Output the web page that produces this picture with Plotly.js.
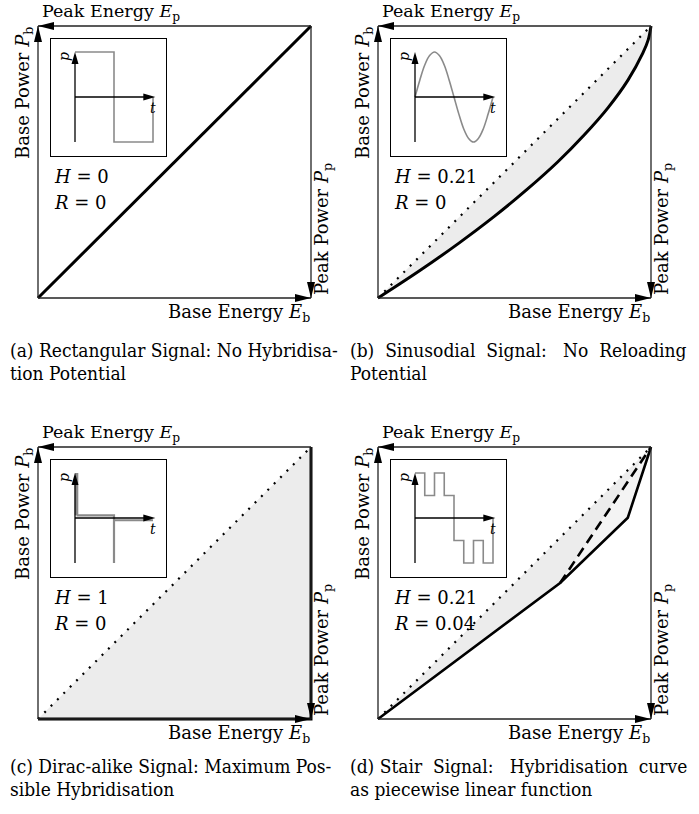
<!DOCTYPE html>
<html>
<head>
<meta charset="utf-8">
<script src="https://cdn.plot.ly/plotly-3.0.1.min.js"></script>
<style>html,body{margin:0;padding:0;background:#fff;}#chart{width:699px;height:814px;}</style>
</head>
<body>
<div id="chart"></div>
<script>
// ---------- data ----------
const diagX = [0, 1];
const diagY = [0, 1];
const rectCurveX = [0, 1];
const rectCurveY = [0, 1];
const sineCurveX = [0, 0.152, 0.294, 0.426, 0.547, 0.658, 0.756, 0.843, 0.915, 0.970, 0.990, 1.0];
const sineCurveY = [0, 0.10, 0.20, 0.30, 0.40, 0.50, 0.60, 0.70, 0.80, 0.90, 0.95, 1.0];
const diracCurveX = [0, 1, 1];
const diracCurveY = [0, 0, 1];
const stairCurveX = [0, 0.667, 0.915, 1];
const stairCurveY = [0, 0.50, 0.74, 1];
const stairDashX = [0, 0.667, 1];
const stairDashY = [0, 0.50, 1];

const rectT = [0, 0.5, 0.5, 1, 1];
const rectP = [1, 1, -1, -1, 0];
const sineT = [0, 0.0625, 0.125, 0.1875, 0.25, 0.3125, 0.375, 0.4375, 0.5, 0.5625, 0.625, 0.6875, 0.75, 0.8125, 0.875, 0.9375, 1];
const sineP = [0, 0.38, 0.71, 0.92, 1, 0.92, 0.71, 0.38, 0, -0.38, -0.71, -0.92, -1, -0.92, -0.71, -0.38, 0];
const diracSpikeT = [0.02, 0.02];
const diracSpikeP = [1, 0.06];
const diracRestT = [0.02, 0.5, 0.5, 0.5, 1.0];
const diracRestP = [0.06, 0.06, -1, -0.05, -0.05];
const stairT = [0, 0.125, 0.125, 0.25, 0.25, 0.375, 0.375, 0.5, 0.5, 0.625, 0.625, 0.75, 0.75, 0.875, 0.875, 1, 1];
const stairP = [1, 1, 0.5, 0.5, 1, 1, 0.5, 0.5, -0.5, -0.5, -1, -1, -0.5, -0.5, -1, -1, 0];

const hValues = ["0", "0.21", "1", "0.21"];
const rValues = ["0", "0", "0", "0.04"];
const captions = [
  ["(a) Rectangular Signal: No Hybridisa-", "tion Potential"],
  ["(b)\u00a0 Sinusodial\u00a0 Signal:\u00a0\u00a0 No\u00a0\u00a0Reloading", "Potential"],
  ["(c) Dirac-alike Signal: Maximum Pos-", "sible Hybridisation"],
  ["(d)\u00a0Stair\u00a0 Signal:\u00a0\u00a0 Hybridisation\u00a0\u00a0curve", "as piecewise linear function"]
];

const W = 699, H = 814;
const FONT = 'DejaVu Serif';
const CAPFONT = '"DejaVu Serif Condensed", "DejaVu Serif"';
const offsets = [[0, 0], [340, 0], [0, 421], [340, 421]];
const capY = [[350, 373], [350, 373], [345, 368], [345, 368]];
const BOX = {x0: 38, x1: 311, y0: 26, y1: 298};
const INSET = {x0: 51, x1: 166, y0: 39, y1: 156};
const PAD = 0.03;
const FILL = '#ececec';

const layout = {
  width: W, height: H,
  margin: {l: 0, r: 0, t: 0, b: 0},
  paper_bgcolor: '#fff', plot_bgcolor: 'rgba(0,0,0,0)',
  showlegend: false,
  font: {family: FONT, size: 18, color: '#000'},
  shapes: [], annotations: []
};
const traces = [];
function px(x) { return x / W; }
function py(y) { return 1 - y / H; }

offsets.forEach(([ox, oy], i) => {
  const n = i + 1, ni = i + 5;
  const bw = BOX.x1 - BOX.x0, bh = BOX.y1 - BOX.y0;
  const hidden = {visible: false, fixedrange: true};
  layout['xaxis' + n] = Object.assign({}, hidden, {
    domain: [px(ox + BOX.x0 - PAD * bw), px(ox + BOX.x1 + PAD * bw)], range: [-PAD, 1 + PAD], anchor: 'y' + n });
  layout['yaxis' + n] = Object.assign({}, hidden, {
    domain: [py(oy + BOX.y1 + PAD * bh), py(oy + BOX.y0 - PAD * bh)], range: [-PAD, 1 + PAD], anchor: 'x' + n });
  const insetAx = {showline: true, mirror: true, linecolor: '#000', linewidth: 1.3,
    showticklabels: false, ticks: '', showgrid: false, zeroline: false, fixedrange: true};
  layout['xaxis' + ni] = Object.assign({}, insetAx, {
    domain: [px(ox + INSET.x0), px(ox + INSET.x1)], range: [-0.3077, 1.1667], anchor: 'y' + ni });
  layout['yaxis' + ni] = Object.assign({}, insetAx, {
    domain: [py(oy + INSET.y1), py(oy + INSET.y0)], range: [-1.311, 1.289], anchor: 'x' + ni });

  const xr = 'x' + n, yr = 'y' + n;
  const edge = {color: '#222', width: 1.3};
  [[0, 0, 1, 0], [0, 0, 0, 1], [1, 1, 0, 1], [1, 1, 1, 0]].forEach(e => {
    layout.shapes.push({type: 'line', xref: xr, yref: yr, x0: e[0], y0: e[1], x1: e[2], y1: e[3], line: edge, layer: 'above'});
  });
  const heads = [[1, 0, 'M0,0L-16,4L-16,-4Z'], [0, 1, 'M0,0L-4,-16L4,-16Z'], [0, 1, 'M0,0L16,4L16,-4Z'], [1, 0, 'M0,0L-4,16L4,16Z']];
  heads.forEach(h => {
    layout.shapes.push({type: 'path', xref: xr, yref: yr, xsizemode: 'pixel', ysizemode: 'pixel',
      xanchor: h[0], yanchor: h[1], path: h[2], fillcolor: '#000', line: {width: 0}, layer: 'above'});
  });
  const xi = 'x' + ni, yi = 'y' + ni;
  layout.shapes.push({type: 'line', xref: xi, yref: yi, x0: 0, y0: -1, x1: 0, y1: 0.9, line: {color: '#000', width: 1.3}, layer: 'above'});
  layout.shapes.push({type: 'line', xref: xi, yref: yi, x0: 0, y0: 0, x1: 0.93, y1: 0, line: {color: '#000', width: 1.3}, layer: 'above'});
  layout.shapes.push({type: 'path', xref: xi, yref: yi, xsizemode: 'pixel', ysizemode: 'pixel',
    xanchor: 0, yanchor: 1, path: 'M0,0L-3.5,-12L3.5,-12Z', fillcolor: '#000', line: {width: 0}, layer: 'above'});
  layout.shapes.push({type: 'path', xref: xi, yref: yi, xsizemode: 'pixel', ysizemode: 'pixel',
    xanchor: 1.03, yanchor: 0, path: 'M0,0L-12,3.5L-12,-3.5Z', fillcolor: '#000', line: {width: 0}, layer: 'above'});

  const A = (x, y, text, size, o, fam) => layout.annotations.push(Object.assign({
    xref: 'paper', yref: 'paper', x: px(ox + x), y: py(oy + y), text: text, showarrow: false,
    font: {family: fam || FONT, size: size, color: '#000'}
  }, o || {}));
  A(40, 12, 'Peak Energy <i>E</i><sub>p</sub>', 17.5, {xanchor: 'left', yanchor: 'middle'});
  A(312, 313, 'Base Energy <i>E</i><sub>b</sub>', 18, {xanchor: 'right', yanchor: 'middle'});
  A(24, 93, 'Base Power <i>P</i><sub>b</sub>', 18, {xanchor: 'center', yanchor: 'middle', textangle: -90});
  A(323, 229, 'Peak Power <i>P</i><sub>p</sub>', 18, {xanchor: 'center', yanchor: 'middle', textangle: -90});
  A(52, 176, '<i>H</i>\u00a0=\u00a0' + hValues[i], 18, {xanchor: 'left', yanchor: 'middle'});
  A(52, 202, '<i>R</i>\u00a0=\u00a0' + rValues[i], 18, {xanchor: 'left', yanchor: 'middle'});
  A(64, 57, '<i>p</i>', 14, {xanchor: 'center', yanchor: 'middle', textangle: -90});
  A(153, 108, '<i>t</i>', 14, {xanchor: 'center', yanchor: 'middle'});
  A(8, capY[i][0], captions[i][0], 19, {xanchor: 'left', yanchor: 'middle'}, CAPFONT);
  A(8, capY[i][1], captions[i][1], 19, {xanchor: 'left', yanchor: 'middle'}, CAPFONT);
});

function T(n, x, y, o) {
  return Object.assign({x: x, y: y, xaxis: 'x' + n, yaxis: 'y' + n, mode: 'lines', hoverinfo: 'skip'}, o);
}
const dotted = {color: '#000', width: 2.2, dash: '2px,7px'};
const thick = {color: '#000', width: 3};
const grey = {color: '#8a8a8a', width: 1.6};

traces.push(T(1, rectCurveX, rectCurveY, {line: thick}));
traces.push(T(2, diagX, diagY, {line: {width: 0}}));
traces.push(T(2, sineCurveX, sineCurveY, {line: {width: 0, shape: 'spline'}, fill: 'tonexty', fillcolor: FILL}));
traces.push(T(2, diagX, diagY, {line: dotted}));
traces.push(T(2, sineCurveX, sineCurveY, {line: Object.assign({shape: 'spline'}, thick)}));
traces.push(T(3, diagX, diagY, {line: {width: 0}}));
traces.push(T(3, diracCurveX, diracCurveY, {line: {width: 0}, fill: 'tonexty', fillcolor: FILL}));
traces.push(T(3, diagX, diagY, {line: dotted}));
traces.push(T(3, diracCurveX, diracCurveY, {line: thick}));
traces.push(T(4, diagX, diagY, {line: {width: 0}}));
traces.push(T(4, stairDashX, stairDashY, {line: {width: 0}, fill: 'tonexty', fillcolor: FILL}));
traces.push(T(4, stairCurveX, stairCurveY, {line: {width: 0}, fill: 'tonexty', fillcolor: '#f4f4f4'}));
traces.push(T(4, diagX, diagY, {line: dotted}));
traces.push(T(4, stairDashX.slice(1), stairDashY.slice(1), {line: {color: '#000', width: 2.6, dash: '10px,6px'}}));
traces.push(T(4, stairCurveX, stairCurveY, {line: {color: '#000', width: 2.6}}));
traces.push(T(5, rectT, rectP, {line: grey}));
traces.push(T(6, sineT, sineP, {line: Object.assign({shape: 'spline'}, grey)}));
traces.push(T(7, diracSpikeT, diracSpikeP, {line: {color: '#8a8a8a', width: 3.5}}));
traces.push(T(7, diracRestT, diracRestP, {line: {color: '#8a8a8a', width: 2.2}}));
traces.push(T(8, stairT, stairP, {line: grey}));

Plotly.newPlot('chart', traces, layout, {staticPlot: true, displayModeBar: false});
</script>
</body>
</html>
